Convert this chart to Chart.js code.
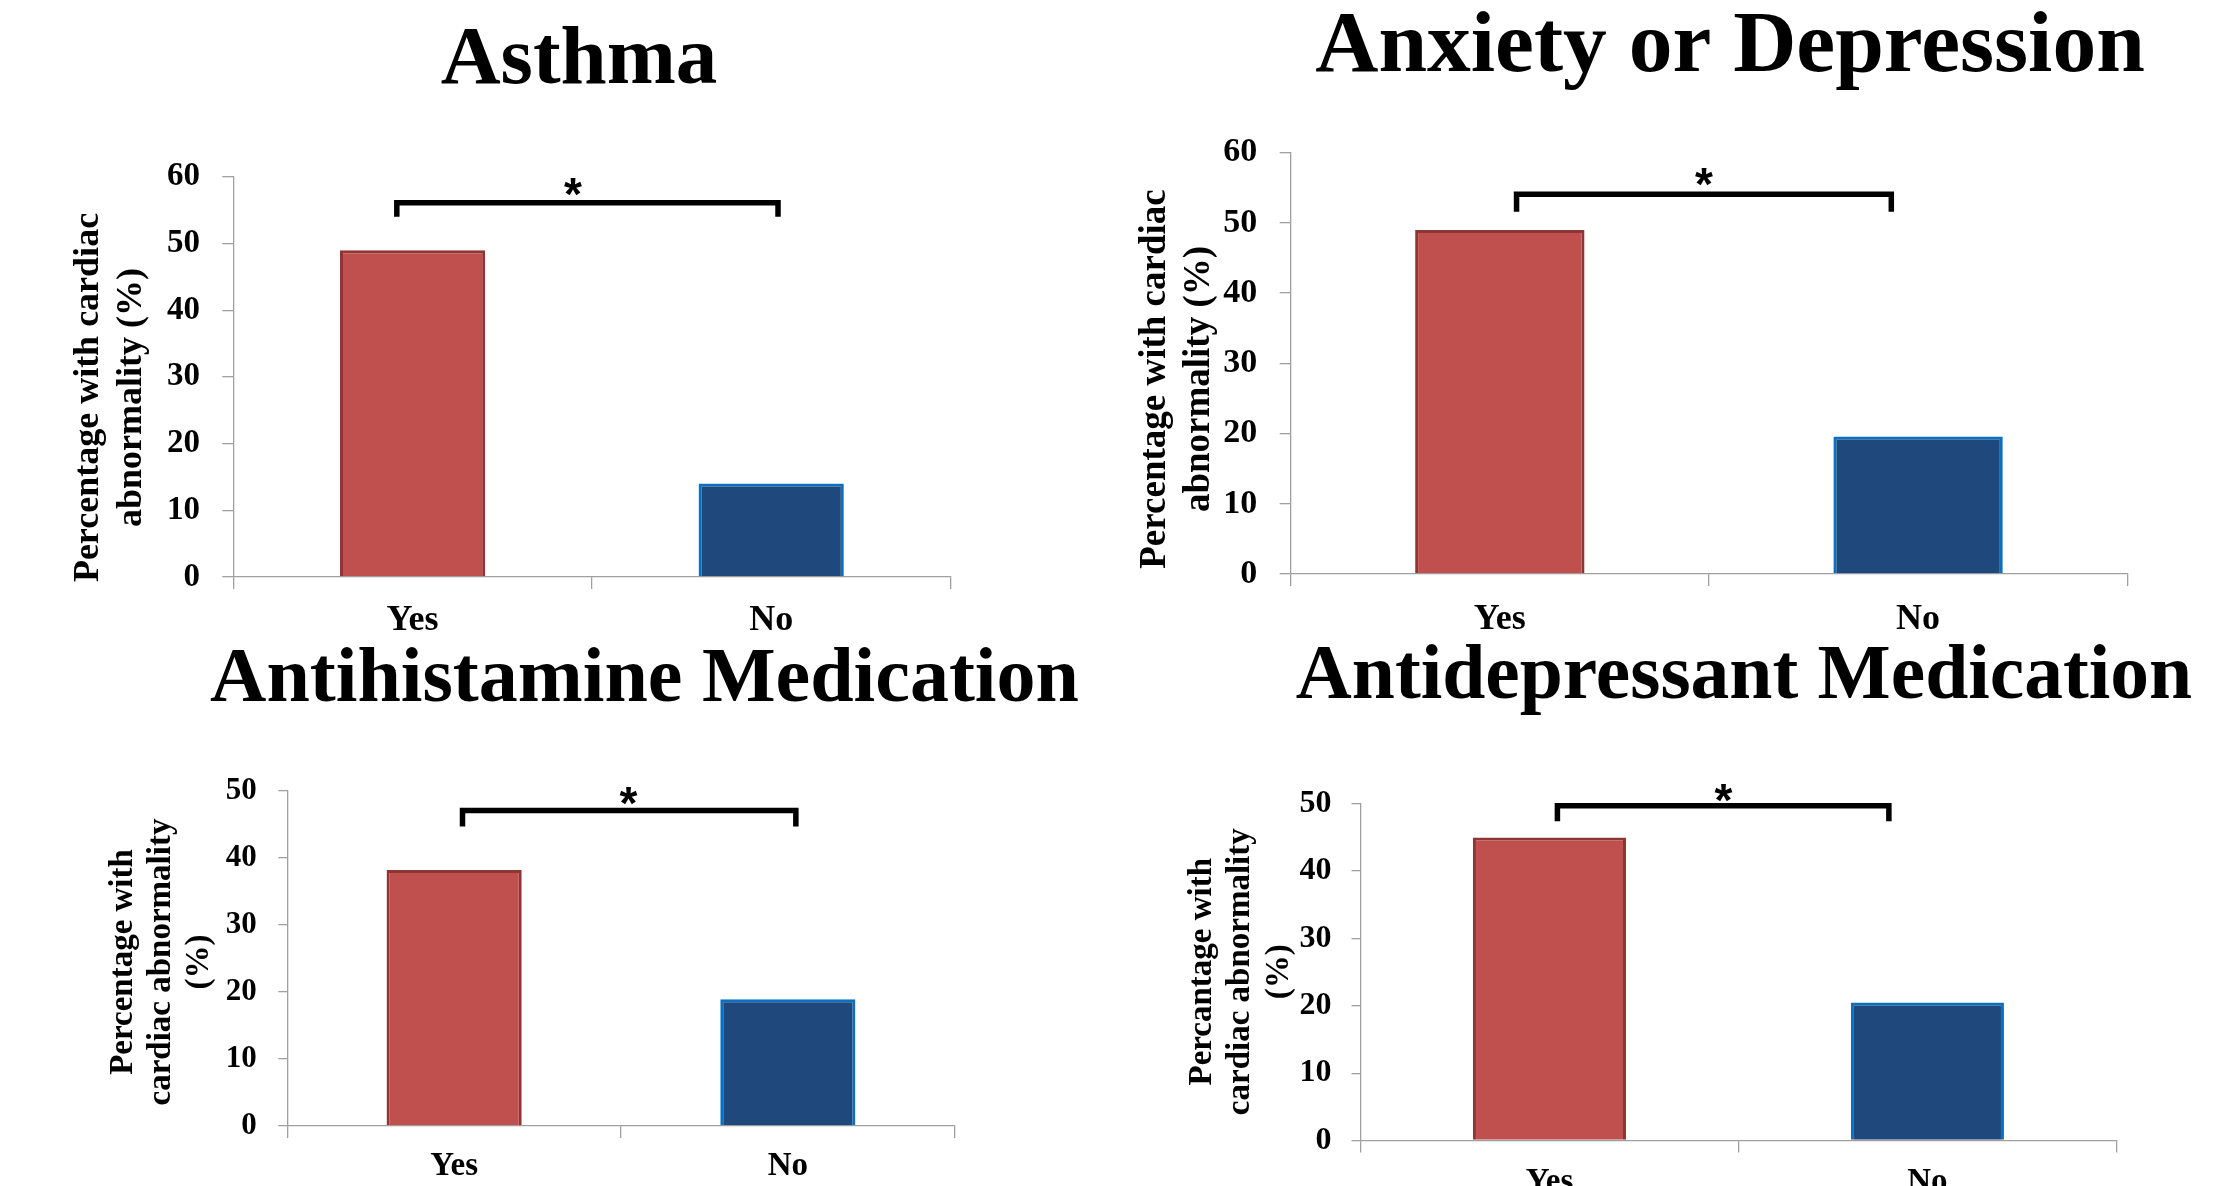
<!DOCTYPE html>
<html>
<head>
<meta charset="utf-8">
<script src="https://cdn.jsdelivr.net/npm/chart.js@4.4.1/dist/chart.umd.min.js"></script>
<style>
html,body{margin:0;padding:0;background:#ffffff;}
body{width:2221px;height:1186px;position:relative;overflow:hidden;}
canvas{position:absolute;left:0;top:0;}
</style>
</head>
<body>
<canvas id="c0" width="2221" height="1186"></canvas>
<canvas id="c1" width="2221" height="1186"></canvas>
<canvas id="c2" width="2221" height="1186"></canvas>
<canvas id="c3" width="2221" height="1186"></canvas>
<script>
// ---------------- data ----------------
const categories = ['Yes', 'No'];
const chartTitles = ['Asthma', 'Anxiety or Depression', 'Antihistamine Medication', 'Antidepressant Medication'];
const yesValues = [49, 49, 38.2, 45];
const noValues = [14, 19.6, 18.9, 20.5];
const yMaxValues = [60, 60, 50, 50];
const yStepValues = [10, 10, 10, 10];
const yTitleLines = [
  ['Percentage with cardiac', 'abnormality (%)'],
  ['Percentage with cardiac', 'abnormality (%)'],
  ['Percentage with', 'cardiac abnormality', '(%)'],
  ['Percantage with', 'cardiac abnormality', '(%)']
];
const significanceMarks = ['*', '*', '*', '*'];
// significance bracket, in category-index units (x) and value units (y)
const bracketStart = [-0.044, 0.040, 0.025, 0.021];
const bracketEnd = [1.019, 0.936, 1.024, 0.898];
const bracketTop = [56.1, 54.1, 47.1, 49.7];
const bracketFoot = [54.0, 51.6, 44.7, 47.4];
const starIndex = [0.447, 0.488, 0.522, 0.46];
const starValue = [58.9, 57.0, 49.7, 52.1];

// ---------------- layout / style ----------------
const W = 2221, H = 1186;
const SERIF = "'Liberation Serif', 'Times New Roman', serif";
const SANS = "'Liberation Sans', Arial, sans-serif";
const AXIS_GREY = '#a0a0a0';
const panels = [
  {area: {l: 233.3, r: 950.5, t: 176.8, b: 577}, title: {x: 579, base: 83, size: 83},
   yTitle: {xs: [89, 132], cy: 397.5, size: 36}, tick: {size: 33, len: 11, pad: 22.3}, xl: {size: 36, pad: 10}},
  {area: {l: 1290.7, r: 2127.2, t: 152.7, b: 574}, title: {x: 1730, base: 71, size: 87.5},
   yTitle: {xs: [1155, 1199], cy: 379, size: 37}, tick: {size: 34, len: 11, pad: 22.4}, xl: {size: 36, pad: 12.5}},
  {area: {l: 287.3, r: 954.7, t: 791, b: 1126}, title: {x: 644.5, base: 701, size: 78},
   yTitle: {xs: [123, 161, 199], cy: 962, size: 33}, tick: {size: 31, len: 9, pad: 21.6}, xl: {size: 33, pad: 8.5}},
  {area: {l: 1360.5, r: 2116.4, t: 803.8, b: 1140.5}, title: {x: 1744, base: 697.6, size: 77.5},
   yTitle: {xs: [1202, 1240.5, 1279], cy: 971.7, size: 33}, tick: {size: 32, len: 9, pad: 20}, xl: {size: 33, pad: 10}}
];

function makeOverlay(i) {
  const p = panels[i];
  return {
    id: 'overlay' + i,
    afterDraw(chart) {
      const ctx = chart.ctx;
      const xs = chart.scales.x, ys = chart.scales.y;
      ctx.save();
      // chart title
      ctx.fillStyle = '#000';
      ctx.font = 'bold ' + p.title.size + 'px ' + SERIF;
      ctx.textAlign = 'center';
      ctx.textBaseline = 'alphabetic';
      ctx.fillText(chartTitles[i], p.title.x, p.title.base);
      // y axis title (rotated)
      ctx.font = 'bold ' + p.yTitle.size + 'px ' + SERIF;
      ctx.textBaseline = 'middle';
      yTitleLines[i].forEach((line, k) => {
        ctx.save();
        ctx.translate(p.yTitle.xs[k], p.yTitle.cy);
        ctx.rotate(-Math.PI / 2);
        ctx.fillText(line, 0, 0);
        ctx.restore();
      });
      // significance bracket
      const x1 = xs.getPixelForValue(bracketStart[i]);
      const x2 = xs.getPixelForValue(bracketEnd[i]);
      const yt = ys.getPixelForValue(bracketTop[i]);
      const yf = ys.getPixelForValue(bracketFoot[i]);
      ctx.strokeStyle = '#000';
      ctx.lineWidth = 5.5;
      ctx.lineJoin = 'miter';
      ctx.lineCap = 'butt';
      ctx.beginPath();
      ctx.moveTo(x1, yf);
      ctx.lineTo(x1, yt);
      ctx.lineTo(x2, yt);
      ctx.lineTo(x2, yf);
      ctx.stroke();
      // star
      const starSize = 46;
      ctx.font = 'bold ' + starSize + 'px ' + SANS;
      ctx.textAlign = 'center';
      ctx.textBaseline = 'alphabetic';
      ctx.fillText(significanceMarks[i], xs.getPixelForValue(starIndex[i]), ys.getPixelForValue(starValue[i]) + 0.567 * starSize);
      ctx.restore();
    }
  };
}

function build(i) {
  const p = panels[i];
  const a = p.area;
  return new Chart(document.getElementById('c' + i), {
    type: 'bar',
    data: {
      labels: categories,
      datasets: [{
        data: [yesValues[i], noValues[i]],
        backgroundColor: ['#C0504D', '#1F497D'],
        borderColor: ['#8E3633', '#0A70C2'],
        borderWidth: 3,
        barPercentage: 0.405,
        categoryPercentage: 1
      }]
    },
    options: {
      responsive: false,
      animation: false,
      events: [],
      devicePixelRatio: 1,
      layout: {padding: {left: 0, top: a.t, right: W - a.r, bottom: 0}},
      plugins: {legend: {display: false}, title: {display: false}, tooltip: {enabled: false}},
      scales: {
        x: {
          type: 'category',
          offset: true,
          grid: {offset: true, drawOnChartArea: false, drawTicks: true, tickLength: 12, color: AXIS_GREY, lineWidth: 1.3},
          border: {display: true, color: AXIS_GREY, width: 1.3},
          ticks: {color: '#000', padding: p.xl.pad, font: {family: SERIF, size: p.xl.size, weight: 'bold', lineHeight: 1.2}},
          afterFit: (s) => { s.height = H - a.b; }
        },
        y: {
          min: 0,
          max: yMaxValues[i],
          grid: {drawOnChartArea: false, drawTicks: true, tickLength: p.tick.len, color: AXIS_GREY, lineWidth: 1.3},
          border: {display: true, color: AXIS_GREY, width: 1.3},
          ticks: {stepSize: yStepValues[i], color: '#000', padding: p.tick.pad, font: {family: SERIF, size: p.tick.size, weight: 'bold', lineHeight: 1.2}},
          afterFit: (s) => { s.width = a.l; }
        }
      }
    },
    plugins: [makeOverlay(i)]
  });
}

Promise.all([
  document.fonts.load('bold 40px "Liberation Serif"'),
  document.fonts.load('bold 40px "Liberation Sans"')
]).catch(() => {}).then(() => {
  for (let i = 0; i < 4; i++) build(i);
});
</script>
</body>
</html>
